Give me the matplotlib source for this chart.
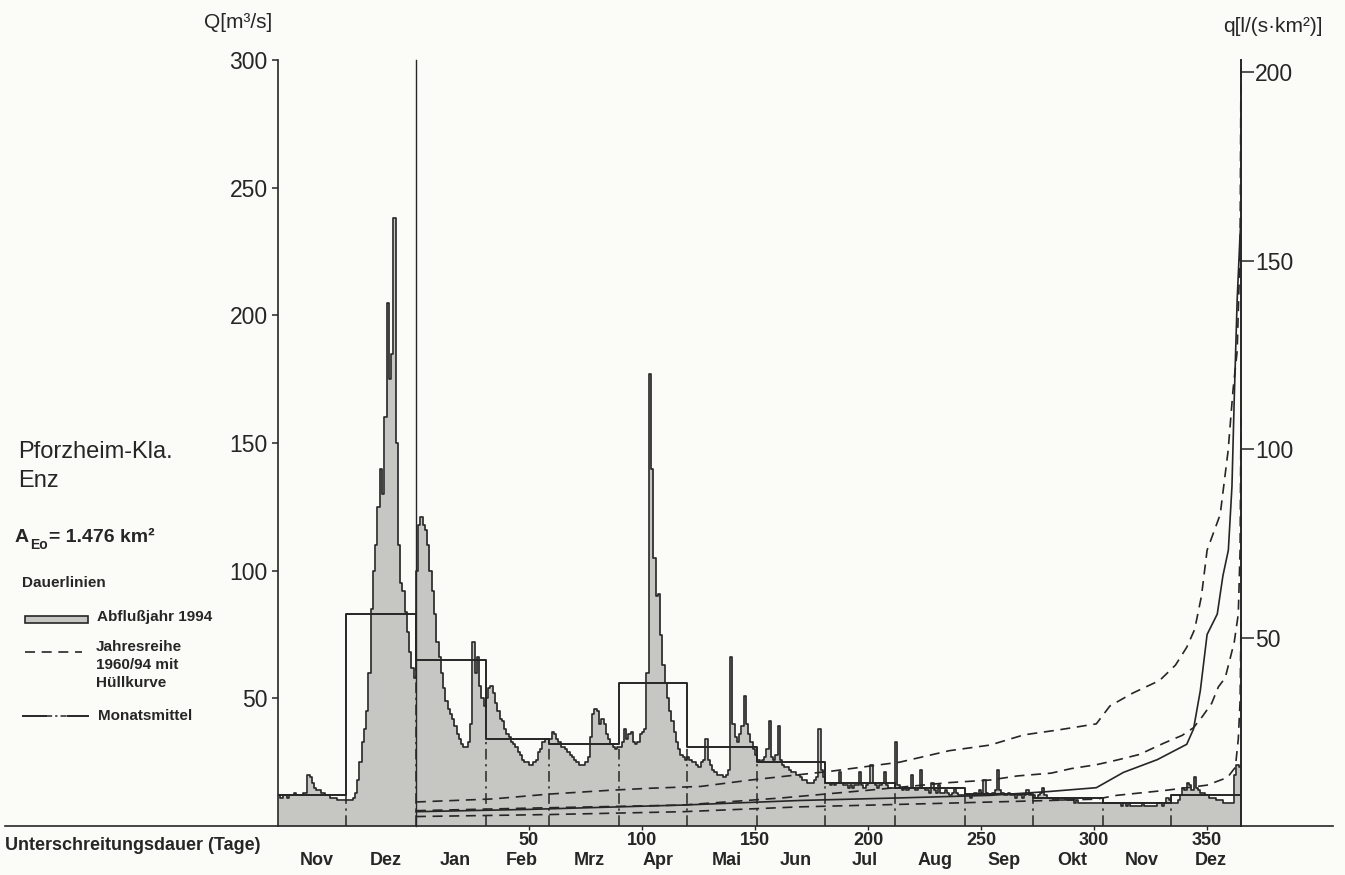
import matplotlib
matplotlib.use("Agg")
import matplotlib.pyplot as plt
from matplotlib.lines import Line2D
from matplotlib.patches import Rectangle
import numpy as np

plt.rcParams['font.family'] = ['Liberation Sans', 'DejaVu Sans']

# Tageswerte Q [m³/s], Nov 1993 bis Dez 1994
nov93 = [12, 11, 12, 12, 11, 12, 12, 13, 12, 12, 12, 13, 13, 20, 19, 17, 15, 14, 14, 13,
         13, 12, 12, 11, 11, 11, 10, 10, 10, 10]
dez93 = [10, 10, 10, 11, 13, 18, 25, 33, 38, 45, 60, 85, 100, 110, 125, 140, 130, 160, 205, 175,
         185, 238, 150, 110, 95, 92, 84, 76, 68, 62, 58]
jan94 = [100, 118, 121, 118, 116, 110, 100, 92, 83, 72, 66, 60, 54, 49, 46, 44, 42, 39, 36, 34,
         32, 31, 31, 33, 40, 72, 60, 66, 55, 50, 47]
feb94 = [50, 54, 55, 52, 48, 45, 42, 41, 38, 36, 35, 33, 32, 31, 29, 28, 26, 25, 25, 24,
         24, 25, 26, 29, 30, 33, 34, 34]
mrz94 = [34, 37, 36, 34, 33, 31, 31, 30, 29, 28, 27, 26, 25, 24, 24, 24, 25, 27, 35, 44,
         46, 45, 40, 42, 40, 36, 34, 32, 31, 30, 31]
apr94 = [31, 33, 38, 34, 36, 37, 33, 32, 33, 36, 37, 38, 60, 177, 140, 105, 90, 91, 75, 63,
         56, 50, 45, 41, 37, 33, 30, 28, 27, 26]
mai94 = [27, 26, 25, 25, 24, 23, 25, 26, 34, 26, 24, 22, 21, 20, 20, 20, 19, 20, 22, 66,
         40, 35, 33, 36, 39, 51, 40, 36, 33, 30, 28]
jun94 = [26, 25, 26, 27, 30, 41, 27, 26, 28, 39, 26, 24, 23, 23, 22, 21, 21, 20, 20, 19,
         18, 18, 17, 17, 17, 18, 19, 38, 22, 19]
jul94 = [17, 17, 16, 17, 16, 17, 21, 17, 16, 16, 15, 16, 15, 16, 16, 21, 16, 15, 16, 17,
         24, 17, 16, 15, 16, 17, 21, 16, 15, 15, 15]
aug94 = [33, 16, 15, 14, 15, 14, 15, 20, 15, 14, 15, 22, 15, 14, 14, 13, 17, 14, 13, 16,
         13, 13, 14, 13, 12, 13, 15, 13, 12, 12, 12]
sep94 = [12, 12, 11, 12, 13, 12, 14, 13, 18, 13, 12, 12, 13, 14, 22, 14, 13, 12, 12, 13,
         12, 12, 11, 12, 12, 11, 12, 14, 12, 12]
okt94 = [12, 11, 12, 13, 15, 12, 11, 11, 11, 10, 11, 10, 10, 10, 11, 10, 10, 10, 9, 10,
         9, 9, 9, 9, 9, 9, 9, 9, 9, 9, 9]
nov94 = [9, 9, 9, 9, 9, 9, 9, 9, 8, 9, 8, 9, 8, 8, 8, 8, 8, 9, 8, 8,
         8, 8, 8, 8, 9, 9, 8, 9, 11, 10]
dez94 = [9, 9, 9, 10, 12, 15, 14, 17, 16, 14, 19, 15, 14, 13, 13, 12, 12, 11, 11, 11,
         10, 10, 10, 9, 9, 9, 9, 9, 20, 24, 23]

monate = ['Nov', 'Dez', 'Jan', 'Feb', 'Mrz', 'Apr', 'Mai', 'Jun', 'Jul', 'Aug', 'Sep', 'Okt', 'Nov', 'Dez']
tage_pro_monat = [30, 31, 31, 28, 31, 30, 31, 30, 31, 31, 30, 31, 30, 31]
monatsmittel = [12, 83, 65, 34, 32, 56, 31, 25, 17, 15, 12.5, 11, 9, 12]

# Dauerlinien: Unterschreitungsdauer (Tage) und Q
u_ober = [0, 34, 59, 86, 104, 126, 148, 184, 214, 236, 254, 269, 284, 301, 307, 317, 329,
          336, 341, 344.5, 347.5, 350, 355.8, 359.3, 361.5, 363.3, 364.6, 365]
q_ober = [9.4, 10.6, 12.5, 14, 14.8, 15.5, 18, 21.5, 25, 29.5, 31.7, 35.7, 37.6, 40, 47, 52, 57,
          63, 70, 77, 90, 108, 122, 147, 171, 186, 226, 300]
u_mitte = [0, 50, 118, 162, 200, 236, 254, 266, 281, 290, 301, 310, 320, 331, 339, 344, 348,
           352, 355, 358, 360.3, 362, 363.8, 364.6, 365]
q_mitte = [6, 7, 8.2, 11, 14, 17, 18, 19.6, 20.7, 22.5, 24, 25.8, 28, 32.5, 35.5, 38.5, 43,
           48, 54.5, 58, 66, 72, 83, 108, 160]
u_unter = [0, 60, 118, 170, 229, 280.5, 301, 310, 332, 350, 359, 362.5, 363.8, 364.6, 365]
q_unter = [3.7, 4.5, 5.6, 7.5, 8.8, 10, 10.5, 12, 14, 16, 19, 23, 34, 49, 80]
u_1994 = [0, 50, 118, 170, 214, 254, 280, 301, 313, 328, 341, 344, 347, 350, 354.5, 357,
          359.4, 361, 362, 363.3, 364.5, 365]
q_1994 = [5.6, 6.5, 8.2, 10, 11, 12, 13.5, 15, 21, 26, 32, 38, 53, 75, 83, 98,
          108, 133, 167, 206, 230, 238]

dauer_ticks = [50, 100, 150, 200, 250, 300, 350]
Q_ticks = [50, 100, 150, 200, 250, 300]
q_ticks = [50, 100, 150, 200]
flaeche = 1476  # km²

papier = '#fbfbf7'
grau = '#c6c6c2'
dunkel = '#262626'

abfluss = np.array(nov93 + dez93 + jan94 + feb94 + mrz94 + apr94 + mai94 + jun94 +
                   jul94 + aug94 + sep94 + okt94 + nov94 + dez94, dtype=float)
grenzen = np.concatenate([[0], np.cumsum(tage_pro_monat)])
start = grenzen[2]   # 1. Januar, Beginn der Dauerlinien
ende = grenzen[-1]

W, H = 1345, 875
fig = plt.figure(figsize=(W / 100, H / 100), dpi=100, facecolor=papier)


def fx(px):
    return px / W


def fy(py):
    return 1 - py / H


ax = fig.add_axes([fx(278), fy(826), (1241 - 278) / W, (826 - 60) / H])
ax.set_facecolor('none')
ax.set_xlim(0, ende)
ax.set_ylim(0, 300)

# Ganglinie als Treppenkurve
tage = np.arange(len(abfluss) + 1)
werte = np.append(abfluss, abfluss[-1])
ax.fill_between(tage, werte, step='post', color=grau, lw=0)
ax.plot(tage, werte, drawstyle='steps-post', color=dunkel, lw=1.2)

# Monatsmittel
ax.plot(grenzen, monatsmittel + [monatsmittel[-1]], drawstyle='steps-post', color=dunkel, lw=1.4)
for i in range(1, len(grenzen) - 1):
    h = min(monatsmittel[i - 1], monatsmittel[i])
    ax.plot([grenzen[i], grenzen[i]], [0, h], color=dunkel, lw=1.1,
            linestyle=(0, (7, 3, 1.5, 3)))

# Dauerlinien
ax.plot([start, start], [0, 300], color=dunkel, lw=1.0, clip_on=False)
gestrichelt = (0, (6, 4))
for u, q in [(u_ober, q_ober), (u_mitte, q_mitte), (u_unter, q_unter)]:
    ax.plot(start + np.array(u), q, color=dunkel, lw=1.2, linestyle=gestrichelt, clip_on=False)
ax.plot(start + np.array(u_1994), q_1994, color=dunkel, lw=1.2, clip_on=False)

# linke Achse Q
for s in ['top', 'right', 'bottom']:
    ax.spines[s].set_visible(False)
ax.spines['left'].set_color(dunkel)
ax.spines['left'].set_linewidth(1.2)
ax.set_yticks(Q_ticks)
ax.tick_params(axis='y', direction='out', length=4.5, width=1.1, color=dunkel,
               labelsize=16.5, labelcolor=dunkel, pad=3)

# x-Achse: Unterschreitungsdauer und Monate
ax.set_xticks([start + t for t in dauer_ticks])
ax.set_xticklabels([str(t) for t in dauer_ticks], fontweight='bold')
ax.tick_params(axis='x', direction='out', length=3, width=1, color=dunkel,
               labelsize=13, labelcolor=dunkel, pad=1)
for i, name in enumerate(monate):
    mitte = (grenzen[i] + grenzen[i + 1]) / 2 + 2
    ax.text(mitte, -0.045, name, transform=ax.get_xaxis_transform(), ha='center', va='center',
            fontsize=13, fontweight='bold', color=dunkel)

# rechte Achse q = Q / A
ax2 = ax.twinx()
ax2.set_ylim(0, 300 * 1000 / flaeche)
for s in ['top', 'left', 'bottom']:
    ax2.spines[s].set_visible(False)
ax2.spines['right'].set_color(dunkel)
ax2.spines['right'].set_linewidth(1.4)
ax2.set_yticks(q_ticks)
ax2.tick_params(axis='y', direction='out', length=9, width=1.1, color=dunkel,
                labelsize=16.5, labelcolor=dunkel, pad=1)

# lange Grundlinie
fig.add_artist(Line2D([fx(5), fx(1333)], [fy(826), fy(826)], color=dunkel, lw=1.2))

# Beschriftungen
fig.text(fx(238), fy(23), 'Q[m³/s]', ha='center', va='center', fontsize=15, color=dunkel)
fig.text(fx(1273), fy(27), 'q[l/(s·km²)]', ha='center', va='center', fontsize=15, color=dunkel)
fig.text(fx(18), fy(452), 'Pforzheim-Kla.', ha='left', va='center', fontsize=17, color=dunkel)
fig.text(fx(18), fy(481), 'Enz', ha='left', va='center', fontsize=17, color=dunkel)
fig.text(fx(15), fy(538), 'A', ha='left', va='center', fontsize=14, fontweight='bold', color=dunkel)
fig.text(fx(30), fy(545), 'Eo', ha='left', va='center', fontsize=10, fontweight='bold', color=dunkel)
fig.text(fx(49), fy(538), '= 1.476 km²', ha='left', va='center', fontsize=14, fontweight='bold',
         color=dunkel)
fig.text(fx(22), fy(583), 'Dauerlinien', ha='left', va='center', fontsize=11, fontweight='bold',
         color=dunkel)
fig.text(fx(5), fy(846), 'Unterschreitungsdauer (Tage)', ha='left', va='center', fontsize=13,
         fontweight='bold', color=dunkel)

# Legende
fig.add_artist(Rectangle((fx(25), fy(623)), (88 - 25) / W, 7 / H, transform=fig.transFigure,
                         facecolor=grau, edgecolor=dunkel, lw=1.2))
fig.text(fx(97), fy(617), 'Abflußjahr 1994', ha='left', va='center', fontsize=11,
         fontweight='bold', color=dunkel)
fig.add_artist(Line2D([fx(25), fx(82)], [fy(652), fy(652)], color=dunkel, lw=1.2,
                      linestyle=gestrichelt))
for k, zeile in enumerate(['Jahresreihe', '1960/94 mit', 'Hüllkurve']):
    fig.text(fx(96), fy(647 + 18 * k), zeile, ha='left', va='center', fontsize=11,
             fontweight='bold', color=dunkel)
fig.add_artist(Line2D([fx(23), fx(46)], [fy(716), fy(716)], color=dunkel, lw=1.4))
fig.add_artist(Line2D([fx(46), fx(68)], [fy(716), fy(716)], color=dunkel, lw=1.1,
                      linestyle=(0, (4, 2, 1.5, 2))))
fig.add_artist(Line2D([fx(68), fx(88)], [fy(716), fy(716)], color=dunkel, lw=1.4))
fig.text(fx(98), fy(716), 'Monatsmittel', ha='left', va='center', fontsize=11,
         fontweight='bold', color=dunkel)

fig.savefig('out.png', dpi=100, facecolor=papier)
